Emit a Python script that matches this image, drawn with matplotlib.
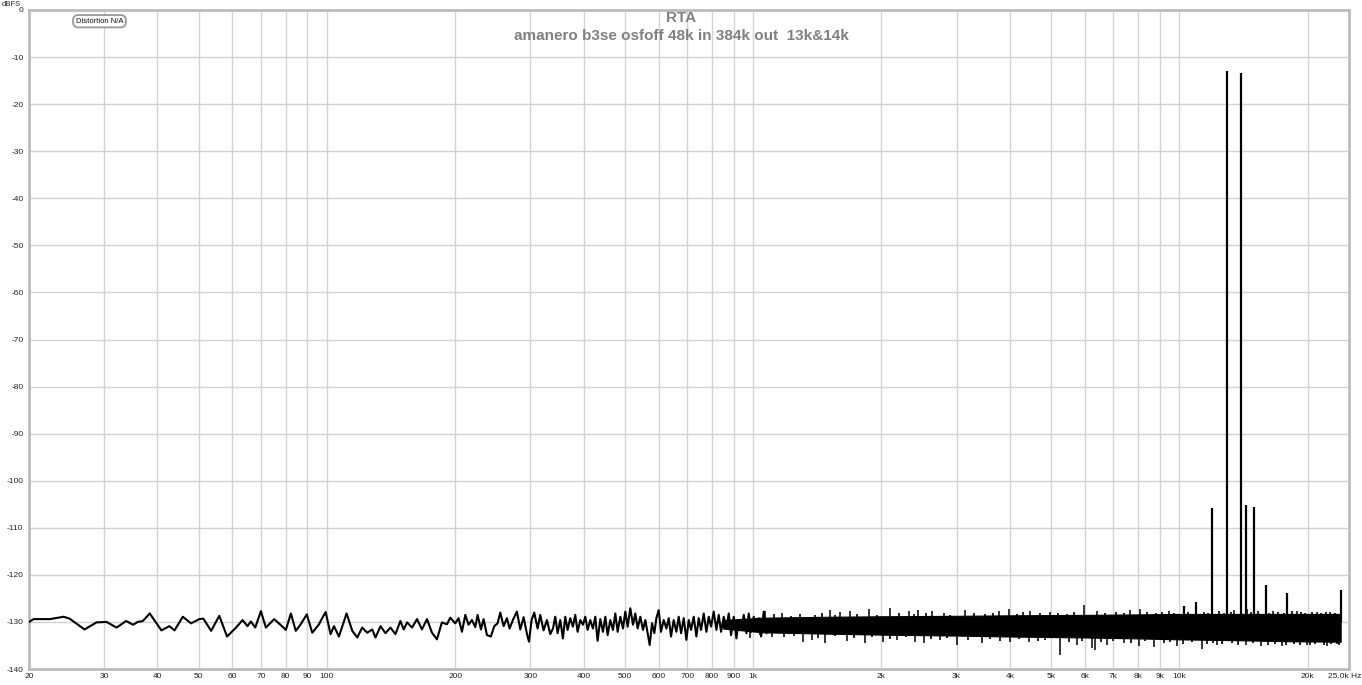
import numpy as np
import matplotlib
matplotlib.use("Agg")
import matplotlib.pyplot as plt
from matplotlib.ticker import FixedLocator, FixedFormatter, NullLocator

plt.rcParams["font.family"] = ["Liberation Sans", "DejaVu Sans"]

# ---- data -------------------------------------------------------------------
# low / mid frequency trace, Hz and dBFS
trace_f = [20, 20.5, 22.4, 24.1, 24.9, 27.0, 28.8, 30.4, 32.1, 33.8, 35.1, 36.0, 37.0, 38.4,
           40.9, 42.7, 43.9, 45.9, 48.0, 50.2, 51.3, 53.5, 55.9, 58.3, 61.2, 63.4, 65.1, 66.3,
           67.9, 70.0, 71.9, 75.2, 78.0, 80.1, 82.3, 84.5, 86.8, 89.7, 92.4, 95.8, 97.6, 99.3,
           102.0, 103.9, 106.7, 111.2, 114.7, 117.8, 121.0, 124.3, 127.7, 130.0, 133.6, 137.2,
           140.9, 144.8, 148.7, 151.4, 154.2, 158.4, 162.7, 167.1, 171.7, 176.4, 181.2, 186.1,
           191.2, 194.7,
           200.0, 203.6, 207.4, 211.2, 214.9, 218.9, 222.9, 225.7, 229.8, 233.1, 237.4, 242.5,
           246.9, 251.4, 255.1, 259.7, 264.4, 268.2, 273.1, 279.1, 284.2, 289.4, 294.7, 297.9,
           302.1, 306.5, 312.1, 316.6, 322.3, 328.2, 334.2,
           339.1, 343.3, 347.7, 352.7, 357.8, 362.4, 367.0, 372.3, 377.7, 382.5, 387.4, 393.0,
           398.7, 403.8, 408.9, 414.8, 420.8, 426.2, 431.6, 437.9, 444.2, 449.9, 455.6, 462.2,
           468.9, 474.9, 480.9, 487.9, 495.0, 501.3, 507.6, 515.0, 522.5, 529.1, 535.8, 543.6,
           551.5, 558.6, 565.7, 571.8, 579.1, 586.4, 592.8, 600.3, 607.9, 616.8, 625.7, 633.7,
           641.7, 651.0, 660.5, 668.9, 677.4, 687.2, 697.2, 706.0, 715.0, 725.4, 735.9, 745.2,
           754.7, 765.6, 776.8, 786.6, 796.6, 808.2, 819.9, 830.3, 840.9, 853.0, 865.5, 876.4,
           887.6, 900.4, 913.5, 925.1, 936.8, 950.5, 964.3, 976.5, 988.9, 1003.3, 1017.8,
           1030.8, 1043.8, 1059.0, 1074.4, 1090.0]
trace_db = [-130.0, -129.4, -129.4, -128.9, -129.3, -131.6, -130.1, -130.0, -131.2, -129.8,
            -130.6, -130.0, -129.8, -128.2, -131.8, -130.9, -131.8, -128.9, -130.3, -129.4,
            -129.3, -131.9, -128.7, -133.1, -131.2, -129.6, -130.9, -129.9, -131.2, -127.7,
            -131.2, -129.4, -130.7, -131.7, -128.2, -131.9, -130.5, -128.4, -132.3, -130.5,
            -129.1, -127.9, -132.6, -130.9, -133.1, -128.2, -131.9, -133.3, -131.2, -132.3,
            -131.6, -133.3, -130.9, -132.4, -131.2, -132.6, -129.8, -131.6, -130.1, -131.2,
            -129.4, -131.6, -129.4, -132.3, -133.7, -130.1, -130.5, -129.1,
            -130.3, -129.2, -132.1, -128.5, -130.6, -129.6, -131.1, -128.5, -131.6, -129.4,
            -132.8, -133.1, -130.9, -130.3, -128.0, -130.9, -129.2, -131.4, -129.6, -127.8,
            -131.6, -129.0, -132.6, -134.2, -129.6, -128.0, -131.4, -128.5, -131.8, -129.6,
            -132.6,
            -131.4, -128.9, -132.4, -129.6, -133.5, -128.9, -131.7, -129.2, -131.0, -128.5,
            -132.1, -129.6, -130.6, -128.9, -131.7, -129.6, -131.4, -128.9, -134.0, -129.4,
            -132.1, -128.9, -132.8, -129.6, -131.7, -128.2, -132.1, -128.9, -131.4, -127.8,
            -131.0, -127.1, -130.6, -128.2, -131.4, -128.9, -131.7, -129.6, -132.4, -134.9,
            -130.3, -132.4, -129.2, -127.5, -132.1, -129.6, -131.4, -129.2, -133.1, -129.6,
            -132.1, -128.9, -132.4, -129.2, -133.8, -129.6, -131.7, -128.9, -133.1, -129.2,
            -131.7, -128.2, -132.1, -128.9, -131.0, -127.8, -131.7, -128.5, -132.1, -128.9,
            -131.4, -128.2, -132.8, -128.9, -133.5, -129.6, -131.7, -128.5, -132.4, -128.2,
            -132.1, -128.9, -131.4, -129.2, -133.1, -127.8, -132.4, -129.6]

# dense noise band above ~850 Hz: envelope of the solid core
band_f = [850, 1050, 1500, 2000, 3000, 4000, 6000, 8000, 10000, 14000, 18000, 23900]
band_hi = [-129.6, -129.1, -128.9, -128.8, -128.7, -128.6, -128.5, -128.4, -128.3, -128.3,
           -128.3, -128.3]
band_lo = [-131.4, -132.2, -132.5, -132.7, -132.9, -133.1, -133.3, -133.5, -133.7, -133.9,
           -134.1, -134.2]

# larger single excursions sticking out of the band
up_f = [1067, 1168, 1516, 1600, 1689, 1865, 2097, 2315, 2443, 2627, 2798, 3146, 3767, 3975,
        4469, 4980, 5963, 6410, 7674, 8101, 9438, 11400, 13400, 14400, 16600, 18900, 21000,
        22600]
up_db = [-127.7, -128.2, -127.5, -127.8, -127.7, -127.2, -127.0, -127.7, -127.5, -127.7,
         -128.2, -127.5, -127.7, -127.2, -127.7, -127.8, -126.3, -127.7, -127.5, -127.2,
         -127.6, -127.8, -127.5, -127.3, -127.6, -127.6, -127.8, -127.8]
down_f = [984, 1106, 1312, 1373, 1476, 1660, 1832, 2022, 2175, 2401, 2510, 2748, 3007, 3442,
          4012, 4429, 5257, 5753, 6237, 6351, 6766, 7400, 8027, 8700, 9880, 11300, 12250,
          14300, 15500, 17400, 19900, 22200, 23400]
down_db = [-133.5, -133.1, -134.2, -133.8, -134.5, -134.0, -134.5, -134.2, -133.8, -134.2,
           -134.5, -133.8, -134.8, -134.5, -134.3, -134.2, -137.0, -134.9, -135.6, -136.0,
           -134.9, -134.5, -135.2, -135.4, -135.2, -135.8, -134.9, -134.9, -135.2, -135.1,
           -134.9, -135.2, -134.7]

# smaller ragged edges of the band
edge_up_f = [1120, 1230, 1290, 1400, 1450, 1560, 1750, 1950, 2200, 2380, 2550, 2900, 3300,
             3500, 3650, 4150, 4300, 4700, 5200, 5450, 5650, 6700, 7100, 7400, 8400, 8800,
             9100, 9700, 10500, 11700, 12400, 12700, 13200, 14700, 15300, 16200, 17000,
             17600, 18400, 19300, 19700, 20500, 21500, 22100, 23200]
edge_up_db = [-128.4, -128.7, -128.3, -128.6, -128.2, -128.5, -128.3, -128.6, -128.2, -128.4,
              -128.1, -128.5, -128.0, -128.3, -128.1, -128.4, -127.9, -128.2, -128.0, -128.3,
              -127.9, -128.2, -127.9, -128.1, -127.9, -128.2, -127.8, -128.0, -127.8, -128.1,
              -127.7, -128.0, -127.8, -127.9, -127.7, -128.0, -127.8, -128.1, -127.7, -127.9,
              -128.0, -127.8, -128.1, -127.9, -128.0]
edge_down_f = [1040, 1180, 1250, 1420, 1560, 1720, 1900, 2100, 2280, 2620, 2850, 3200, 3600,
               3800, 4200, 4650, 4850, 5500, 5900, 6550, 7000, 7700, 8300, 9200, 9500, 10200,
               10700, 11600, 12000, 12600, 13300, 13700, 14900, 16100, 16800, 17800, 18600,
               19200, 20300, 20800, 21800, 22700, 23700]
edge_down_db = [-132.8, -133.2, -132.9, -133.4, -133.0, -133.5, -133.2, -133.6, -133.3, -133.7,
                -133.4, -133.9, -133.6, -134.0, -133.7, -134.1, -133.8, -134.2, -134.0, -134.3,
                -134.0, -134.4, -134.1, -134.5, -134.2, -134.6, -134.3, -134.6, -134.4, -134.7,
                -134.5, -134.8, -134.5, -134.8, -134.6, -134.9, -134.6, -134.8, -134.9, -134.6,
                -134.9, -134.7, -134.8]

# test tones and IMD / spurious products
tone_f = [10230, 10940, 11950, 12960, 13950, 14300, 15000, 15950, 17900, 23900]
tone_db = [-126.6, -125.7, -105.8, -12.9, -13.3, -105.2, -105.5, -122.2, -123.9, -123.2]

xticks = [20, 30, 40, 50, 60, 70, 80, 90, 100, 200, 300, 400, 500, 600, 700, 800, 900, 1000,
          2000, 3000, 4000, 5000, 6000, 7000, 8000, 9000, 10000, 20000, 25000]
xlabels = ["20", "30", "40", "50", "60", "70", "80", "90", "100", "200", "300", "400", "500",
           "600", "700", "800", "900", "1k", "2k", "3k", "4k", "5k", "6k", "7k", "8k", "9k",
           "10k", "20k", ""]
last_label = "25.0k Hz"
yticks = list(range(-140, 1, 10))

title = "RTA"
subtitle = "amanero b3se osfoff 48k in 384k out  13k&14k"

# ---- figure -----------------------------------------------------------------
W, H = 1362, 685
fig = plt.figure(figsize=(W / 100, H / 100), dpi=100)
ax = fig.add_axes([29 / W, 16 / H, 1320 / W, 659 / H])

ax.fill_between(band_f, band_lo, band_hi, color="black", lw=0.8, zorder=3)
ax.plot(trace_f, trace_db, color="black", lw=1.5, zorder=4)
ax.vlines(edge_up_f, -130.5, edge_up_db, color="black", lw=1.2, zorder=4)
ax.vlines(edge_down_f, -130.5, edge_down_db, color="black", lw=1.2, zorder=4)
ax.vlines(up_f, -130.5, up_db, color="black", lw=1.1, zorder=4)
ax.vlines(down_f, -130.5, down_db, color="black", lw=1.1, zorder=4)
ax.vlines(tone_f, -130.0, tone_db, color="black", lw=1.6, zorder=5)

ax.set_xscale("log")
ax.set_xlim(20, 25000)
ax.set_ylim(-140, 0)
ax.xaxis.set_major_locator(FixedLocator(xticks))
ax.xaxis.set_major_formatter(FixedFormatter(xlabels))
ax.xaxis.set_minor_locator(NullLocator())
ax.set_yticks(yticks)
ax.set_yticklabels([str(v) for v in yticks])
ax.tick_params(length=0, labelsize=6, colors="#222222", pad=3)
ax.tick_params(axis="y", pad=4)
ax.grid(True, color="#d2d2d2", lw=1.0, zorder=0)
ax.set_axisbelow(True)
for s in ax.spines.values():
    s.set_color("#bcbcbc")
    s.set_linewidth(2.0)

# last x label sits flush with the right edge of the picture
fig.text(1345 / W, 1 - 676 / H, last_label, fontsize=6, color="#222222",
         ha="center", va="center")
fig.text(2 / W, 1 - 4 / H, "dBFS", fontsize=5.5, color="#222222", va="center", ha="left")
fig.text(681 / W, 1 - 18.5 / H, title, fontsize=11, fontweight="bold", color="#808080",
         ha="center", va="center")
fig.text(681 / W, 1 - 35.5 / H, subtitle, fontsize=11, fontweight="bold", color="#808080",
         ha="center", va="center")
ax.text(0.0534, 0.983, "Distortion N/A", transform=ax.transAxes, fontsize=5.5,
        ha="center", va="center", color="#111111", zorder=6,
        bbox=dict(boxstyle="round,pad=0.35,rounding_size=0.7", fc="white", ec="#999999",
                  lw=1.3))

fig.savefig("out.png", dpi=100)
